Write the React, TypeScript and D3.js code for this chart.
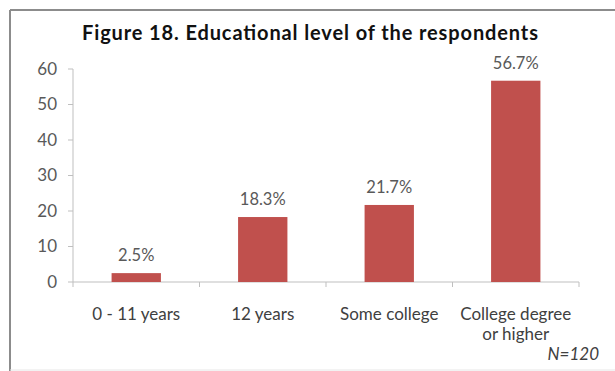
import React from "react";
import * as d3 from "d3";

const categories: string[][] = [["0 - 11 years"], ["12 years"], ["Some college"], ["College degree", "or higher"]];
const values: number[] = [2.5, 18.3, 21.7, 56.7];
const valueLabels: string[] = ["2.5%", "18.3%", "21.7%", "56.7%"];
const yTicks: number[] = [0, 10, 20, 30, 40, 50, 60];
const title = "Figure 18. Educational level of the respondents";
const note = "N=120";

export default function App() {
  const W = 615, H = 371;
  const left = 73, right = 579, top = 69, bottom = 282;
  const keys = categories.map((c) => c.join(" "));
  const x = d3.scaleBand<string>().domain(keys).range([left, right]).paddingInner(0.61).paddingOuter(0.305);
  const y = d3.scaleLinear().domain([0, 60]).range([bottom, top]);
  const font = "Lato, 'Open Sans', sans-serif";
  const grey = "#595959";
  const axisCol = "#BFBFBF";
  const step = (right - left) / keys.length;
  return (
    <svg width={W} height={H} style={{ position: "absolute", left: 0, top: 0, background: "#fff" }} fontFamily={font}>
      <line x1={10} y1={10} x2={W} y2={10} stroke="#8c8c8c" strokeWidth={2} />
      <line x1={10} y1={10} x2={10} y2={H} stroke="#8c8c8c" strokeWidth={2} />
      <line x1={10} y1={H - 1} x2={W} y2={H - 1} stroke="#e6e6e6" strokeWidth={1} />
      <text x={82} y={40} fontWeight="bold" fontSize={20} fill="#111" textLength={456} lengthAdjust="spacing">{title}</text>
      {/* y axis */}
      <line x1={left} y1={top} x2={left} y2={bottom} stroke={axisCol} />
      {yTicks.map((t) => (
        <g key={t}>
          <line x1={left - 5} x2={left} y1={y(t)} y2={y(t)} stroke={axisCol} />
          <text x={57} y={y(t)} dy="0.35em" textAnchor="end" fontSize={17} fill={grey}>{t}</text>
        </g>
      ))}
      {/* x axis */}
      <line x1={left} y1={bottom} x2={right} y2={bottom} stroke={axisCol} />
      {d3.range(keys.length + 1).map((i) => (
        <line key={i} x1={left + i * step} x2={left + i * step} y1={bottom} y2={bottom + 5} stroke={axisCol} />
      ))}
      {values.map((v, i) => (
        <g key={i}>
          <rect x={x(keys[i])} y={y(v)} width={x.bandwidth()} height={bottom - y(v)} fill="#C0504D" />
          <text x={(x(keys[i]) as number) + x.bandwidth() / 2} y={y(v) - 12} textAnchor="middle" fontSize={16.5} fill={grey}>{valueLabels[i]}</text>
          {categories[i].map((line, j) => (
            <text key={j} x={(x(keys[i]) as number) + x.bandwidth() / 2} y={320 + j * 20} textAnchor="middle" fontSize={17} fill="#404040">{line}</text>
          ))}
        </g>
      ))}
      <text x={599} y={360} textAnchor="end" fontSize={17} fontStyle="italic" fill="#404040">{note}</text>
    </svg>
  );
}
